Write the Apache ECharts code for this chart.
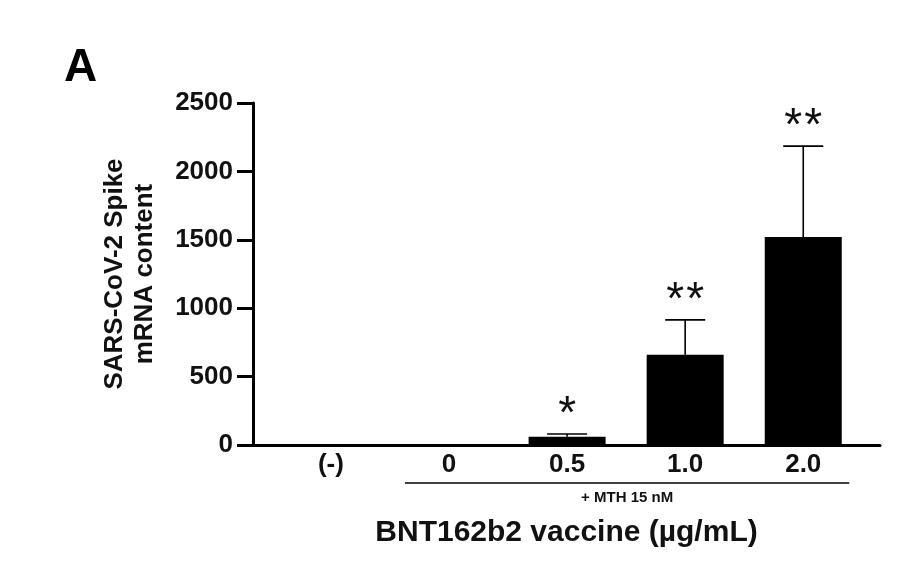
<!DOCTYPE html>
<html><head><meta charset="utf-8">
<script src="https://cdn.jsdelivr.net/npm/echarts@6/dist/echarts.min.js"></script>
<style>html,body{margin:0;padding:0;background:#fff}#c{width:901px;height:575px}</style>
</head><body><div id="c"></div>
<script>
const categories = ['(-)', '0', '0.5', '1.0', '2.0'];
const means = [0, 0, 60, 660, 1520];
const errors = [0, 0, 20, 255, 665];
const stars = ['', '', '*', '**', '**'];
const yTickValues = [0, 500, 1000, 1500, 2000, 2500];
const groupLabel = '+ MTH 15 nM';
const groupFrom = 1, groupTo = 4;

const FONT = '"Liberation Sans", Arial, sans-serif';
const chart = echarts.init(document.getElementById('c'), null, {renderer: 'canvas'});

const barData = means.map((m, i) => [i, m]);
const errData = means.map((m, i) => [i, m, errors[i]]);

chart.setOption({
  animation: false,
  backgroundColor: '#fff',
  grid: {left: 253, right: 21, top: 103, bottom: 130, containLabel: false},
  xAxis: {
    type: 'value', min: -0.66, max: 4.65,
    axisLine: {show: true, onZero: false, lineStyle: {color: '#000', width: 3}},
    axisTick: {show: false},
    splitLine: {show: false},
    axisLabel: {
      customValues: [0, 1, 2, 3, 4],
      formatter: v => categories[Math.round(v)] || '',
      color: '#111', fontFamily: FONT, fontWeight: 'bold', fontSize: 26, margin: 7
    },
    name: 'BNT162b2 vaccine (µg/mL)', nameLocation: 'middle', nameGap: 73, nameMoveOverlap: false,
    nameTextStyle: {color: '#111', fontFamily: FONT, fontWeight: 'bold', fontSize: 30}
  },
  yAxis: {
    type: 'value', min: 0, max: 2500, interval: 500,
    axisLine: {show: true, onZero: false, lineStyle: {color: '#000', width: 3}},
    axisTick: {show: true, length: 16, lineStyle: {color: '#000', width: 3}},
    splitLine: {show: false},
    axisLabel: {formatter: v => String(v), color: '#111', fontFamily: FONT, fontWeight: 'bold', fontSize: 26, margin: 20},
    name: 'SARS-CoV-2 Spike\nmRNA content', nameLocation: 'middle', nameGap: 93, nameRotate: 90, nameMoveOverlap: false,
    nameTextStyle: {color: '#111', fontFamily: FONT, fontWeight: 'bold', fontSize: 26, lineHeight: 30}
  },
  series: [
    {
      type: 'bar', data: barData, barWidth: 77,
      itemStyle: {color: '#000'}, silent: true
    },
    {
      type: 'custom', data: errData, clip: false, z: 5,
      renderItem: function (params, api) {
        const i = api.value(0), m = api.value(1), e = api.value(2);
        if (!(e > 0)) return null;
        const b = api.coord([i, m]);
        const t = api.coord([i, m + e]);
        const half = 20;
        const n = stars[i].length;
        const children = [
          {type: 'line', shape: {x1: b[0], y1: b[1], x2: t[0], y2: t[1]}, style: {stroke: '#000', lineWidth: 1.6}},
          {type: 'line', shape: {x1: t[0] - half, y1: t[1], x2: t[0] + half, y2: t[1]}, style: {stroke: '#000', lineWidth: 1.6}}
        ];
        for (let k = 0; k < n; k++) {
          const dx = (k - (n - 1) / 2) * 20;
          children.push({type: 'text', style: {text: '*', x: t[0] + dx, y: t[1] - 19, align: 'center', verticalAlign: 'middle',
            fontFamily: FONT, fontSize: 46, fill: '#111'}});
        }
        return {type: 'group', children: children};
      }
    }
  ]
});

const p1 = chart.convertToPixel({gridIndex: 0}, [groupFrom, 0]);
const p2 = chart.convertToPixel({gridIndex: 0}, [groupTo, 0]);
const lx1 = p1[0] - 44, lx2 = p2[0] + 46, ly = p1[1] + 38;
chart.setOption({
  graphic: [
    {type: 'text', left: 64, top: 45, style: {text: 'A', fontFamily: FONT, fontWeight: 'bold', fontSize: 46, fill: '#000'}},
    {type: 'line', shape: {x1: lx1, y1: ly, x2: lx2, y2: ly}, style: {stroke: '#000', lineWidth: 1.5}},
    {type: 'text', x: (lx1 + lx2) / 2, y: ly + 15, style: {text: groupLabel, align: 'center', verticalAlign: 'middle',
      fontFamily: FONT, fontWeight: 'bold', fontSize: 15, fill: '#111'}}
  ]
});
</script></body></html>
